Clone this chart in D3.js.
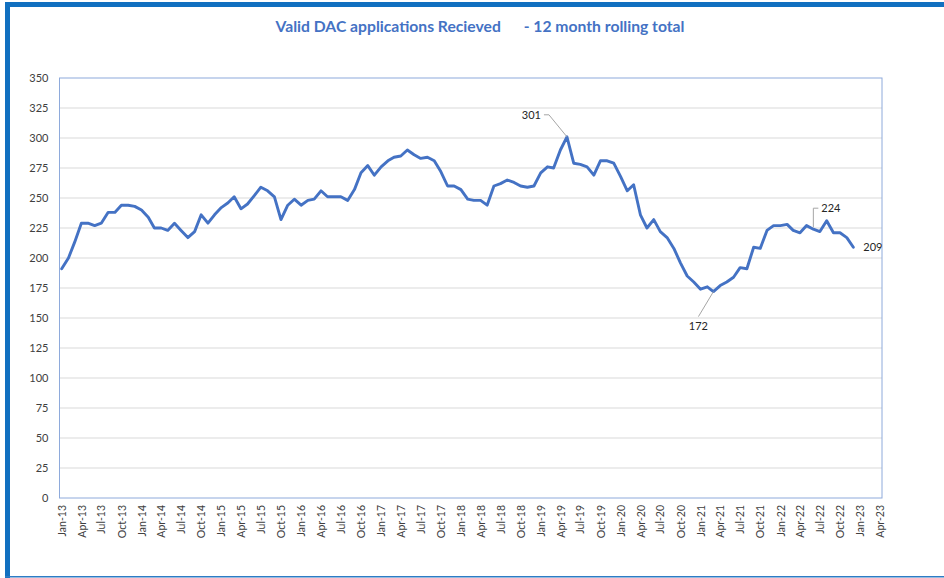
<!DOCTYPE html>
<html>
<head>
<meta charset="utf-8">
<script src="https://cdn.jsdelivr.net/npm/d3@7"></script>
<style>
  body { margin: 0; background: #fff; }
  text { font-family: Lato, "Open Sans", sans-serif; }
</style>
</head>
<body>
<div id="chart"></div>
<script>
/**
 * Data
 */
const firstMonth = new Date(2013, 0, 1);

// 12 month rolling total, monthly Jan-13 .. Dec-22
const rollingTotals = [
  191, 200, 213, 229, 229, 227, 229, 238, 238, 244, 244, 243, // 2013
  240, 234, 225, 225, 223, 229, 223, 217, 222, 236, 229, 236, // 2014
  242, 246, 251, 241, 245, 252, 259, 256, 251, 232, 244, 249, // 2015
  244, 248, 249, 256, 251, 251, 251, 248, 257, 271, 277, 269, // 2016
  276, 281, 284, 285, 290, 286, 283, 284, 281, 272, 260, 260, // 2017
  257, 249, 248, 248, 244, 260, 262, 265, 263, 260, 259, 260, // 2018
  271, 276, 275, 290, 301, 279, 278, 276, 269, 281, 281, 279, // 2019
  268, 256, 261, 236, 225, 232, 222, 217, 208, 196, 185, 180, // 2020
  174, 176, 172, 177, 180, 184, 192, 191, 209, 208, 223, 227, // 2021
  227, 228, 223, 221, 227, 224, 222, 231, 221, 221, 217, 209  // 2022
];

const yTicks = [0, 25, 50, 75, 100, 125, 150, 175, 200, 225, 250, 275, 300, 325, 350];

// labelled points: month index and label placement
const callouts = [
  { i: 76, dx: -36, dy: -22, leader: "diag" },
  { i: 98, dx: -15, dy: 33, leader: "down" },
  { i: 113, dx: 18, dy: -21, leader: "elbow" },
  { i: 119, dx: 10, dy: 0, leader: "none" }
];

const title = "Valid DAC applications Recieved      - 12 month rolling total";

/**
 * Globals
 */
const W = 944, H = 578;
const margin = { t: 78, r: 62, b: 80, l: 59.5 };
const data = rollingTotals.map(function (v, i) {
  return { date: d3.timeMonth.offset(firstMonth, i), v: v, i: i };
});

const scale = {
  x: d3.scaleTime()
    .domain([new Date(2012, 11, 22), new Date(2023, 3, 11)])
    .range([margin.l, W - margin.r]),
  y: d3.scaleLinear().domain([0, 350]).range([H - margin.b, margin.t])
};

const svg = d3.select("#chart").append("svg")
  .attr("width", W)
  .attr("height", H);

svg.append("rect").attr("width", W).attr("height", H).attr("fill", "#fff");

// chart frame (selected chart outline)
svg.append("rect").attr("x", 5).attr("y", 2).attr("width", 5).attr("height", H - 2).attr("fill", "#1170c0");
svg.append("rect").attr("x", 5).attr("y", 2).attr("width", W - 5).attr("height", 5).attr("fill", "#1170c0");
svg.append("rect").attr("x", 5).attr("y", H - 2).attr("width", W - 5).attr("height", 1.5).attr("fill", "#2e7bc4");

// title
svg.append("text")
  .attr("x", 480)
  .attr("y", 32)
  .attr("text-anchor", "middle")
  .style("white-space", "pre")
  .style("font-size", "15.7px")
  .style("font-weight", "bold")
  .style("fill", "#4472c4")
  .text(title);

// gridlines
svg.append("g")
  .selectAll("line")
  .data(yTicks.filter(function (d) { return d > 0 && d < 350; }))
  .join("line")
  .attr("x1", margin.l)
  .attr("x2", W - margin.r)
  .attr("y1", function (d) { return scale.y(d); })
  .attr("y2", function (d) { return scale.y(d); })
  .attr("stroke", "#d9d9d9")
  .attr("stroke-width", 1);

// plot area border
svg.append("rect")
  .attr("x", margin.l)
  .attr("y", margin.t)
  .attr("width", W - margin.r - margin.l)
  .attr("height", H - margin.b - margin.t)
  .attr("fill", "none")
  .attr("stroke", "#8eaadb")
  .attr("stroke-width", 1);

// y axis
const yAxis = svg.append("g")
  .attr("transform", "translate(" + margin.l + ",0)")
  .call(d3.axisLeft(scale.y).tickValues(yTicks).tickSize(0).tickPadding(11));
yAxis.select(".domain").remove();
yAxis.selectAll("text")
  .style("font-size", "11px")
  .style("fill", "#404040");

// x axis
const xAxis = svg.append("g")
  .attr("transform", "translate(0," + (H - margin.b) + ")")
  .call(d3.axisBottom(scale.x)
    .ticks(d3.timeMonth.every(3))
    .tickFormat(d3.timeFormat("%b-%y"))
    .tickSize(0));
xAxis.select(".domain").remove();
xAxis.selectAll("text")
  .attr("transform", "rotate(-90)")
  .attr("text-anchor", "end")
  .attr("x", -7)
  .attr("y", 0)
  .attr("dy", "0.35em")
  .style("font-size", "10.5px")
  .style("fill", "#404040");

// line
const line = d3.line()
  .x(function (d) { return scale.x(d.date); })
  .y(function (d) { return scale.y(d.v); });

svg.append("path")
  .datum(data)
  .attr("d", line)
  .attr("fill", "none")
  .attr("stroke", "#4472c4")
  .attr("stroke-width", 2.9)
  .attr("stroke-linejoin", "round")
  .attr("stroke-linecap", "round");

// callouts
const cg = svg.append("g");
callouts.forEach(function (c) {
  const d = data[c.i];
  const px = scale.x(d.date), py = scale.y(d.v);
  const lx = px + c.dx, ly = py + c.dy;
  let anchor = "start";
  let tx = lx, ty = ly;
  let path = null;
  if (c.leader === "diag") {
    path = [[px, py], [lx + 18, ly], [lx + 13, ly]];
    anchor = "end"; tx = lx + 10;
  } else if (c.leader === "down") {
    path = [[px, py], [lx, ly - 8]];
    anchor = "middle"; ty = ly + 2;
  } else if (c.leader === "elbow") {
    path = [[px, py - 2], [px, ly], [px + 5, ly]];
    tx = px + 5; anchor = "start";
  }
  if (path) {
    cg.append("path")
      .attr("d", d3.line()(path))
      .attr("fill", "none")
      .attr("stroke", "#a6a6a6")
      .attr("stroke-width", 1);
  }
  cg.append("text")
    .attr("x", tx + (c.leader === "elbow" ? 3 : 0))
    .attr("y", ty)
    .attr("dy", "0.35em")
    .attr("text-anchor", anchor)
    .style("font-size", "11px")
    .style("fill", "#262626")
    .text(d.v);
});
</script>
</body>
</html>
